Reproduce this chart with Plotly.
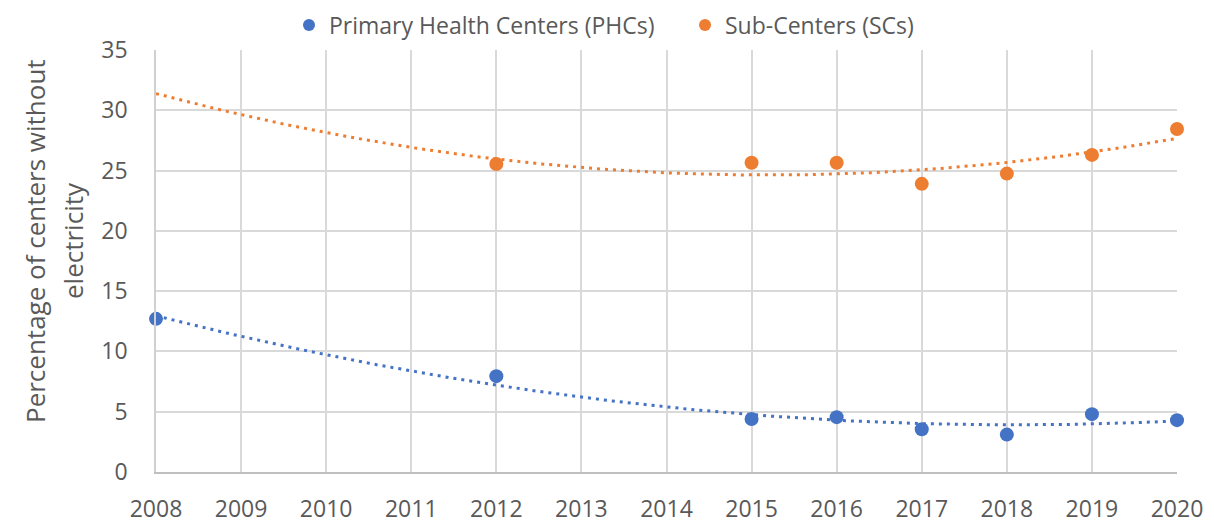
import numpy as np
import plotly.graph_objects as go

years_phc = [2008, 2012, 2015, 2016, 2017, 2018, 2019, 2020]
phc_values = [12.7, 7.95, 4.4, 4.55, 3.55, 3.1, 4.8, 4.3]
years_sc = [2012, 2015, 2016, 2017, 2018, 2019, 2020]
sc_values = [25.55, 25.65, 25.65, 23.9, 24.75, 26.3, 28.45]
x_ticks = list(range(2008, 2021))
y_ticks = [0, 5, 10, 15, 20, 25, 30, 35]

BLUE = "#4472C4"
ORANGE = "#ED7D31"
GRAY = "#595959"
FONT = "Open Sans"

fig = go.Figure()

# polynomial (order 2) trendlines, as in the source spreadsheet
xt = np.linspace(2008, 2020, 200)
cp = np.polyfit(years_phc, phc_values, 2)
cs = np.polyfit(years_sc, sc_values, 2)
fig.add_trace(go.Scatter(x=xt, y=np.polyval(cp, xt), mode="lines", showlegend=False,
                         line=dict(color=BLUE, width=3, dash="3px,5px"), hoverinfo="skip"))
fig.add_trace(go.Scatter(x=xt, y=np.polyval(cs, xt), mode="lines", showlegend=False,
                         line=dict(color=ORANGE, width=3, dash="3px,5px"), hoverinfo="skip"))

fig.add_trace(go.Scatter(x=years_phc, y=phc_values, mode="markers", name="Primary Health Centers (PHCs)",
                         marker=dict(color=BLUE, size=14), cliponaxis=False))
fig.add_trace(go.Scatter(x=years_sc, y=sc_values, mode="markers", name="Sub-Centers (SCs)",
                         marker=dict(color=ORANGE, size=14), cliponaxis=False))

fig.update_layout(
    width=1214, height=524,
    margin=dict(l=156, r=37, t=50, b=52, autoexpand=False),
    plot_bgcolor="white", paper_bgcolor="white",
    font=dict(family=FONT, color=GRAY, size=23),
    legend=dict(orientation="h", x=(289 - 156) / 1021, xanchor="left", y=1.059, yanchor="middle",
                font=dict(size=23, color=GRAY), itemsizing="constant", itemwidth=30,
                entrywidth=351, entrywidthmode="pixels",
                traceorder="normal", tracegroupgap=0),
    showlegend=True,
)
fig.update_xaxes(range=[2008, 2020], tickvals=x_ticks, ticktext=[str(v) for v in x_ticks],
                 showgrid=True, gridcolor="#D9D9D9", gridwidth=1.5, automargin=False,
                 showline=True, linecolor="#BFBFBF", linewidth=2,
                 ticks="", ticklabelstandoff=15, tickfont=dict(size=23, color=GRAY), zeroline=False)
fig.update_yaxes(range=[0, 35], tickvals=y_ticks, automargin=False,
                 showgrid=True, gridcolor="#D9D9D9", gridwidth=1.5,
                 showline=True, linecolor="#D0D0D0", linewidth=1.5,
                 ticks="", ticklabelstandoff=22, tickfont=dict(size=23, color=GRAY), zeroline=False)

yc = (472 - 241) / 422
fig.add_annotation(text="Percentage of centers without", textangle=-90,
                   xref="paper", yref="paper", x=(35 - 156) / 1021, y=yc, xanchor="center", yanchor="middle",
                   showarrow=False, font=dict(size=26, color=GRAY, family=FONT))
fig.add_annotation(text="electricity", textangle=-90,
                   xref="paper", yref="paper", x=(73 - 156) / 1021, y=yc, xanchor="center", yanchor="middle",
                   showarrow=False, font=dict(size=26, color=GRAY, family=FONT))

fig.write_html("out.html", config={"displayModeBar": False},
               post_script="document.body.style.margin='0';")
